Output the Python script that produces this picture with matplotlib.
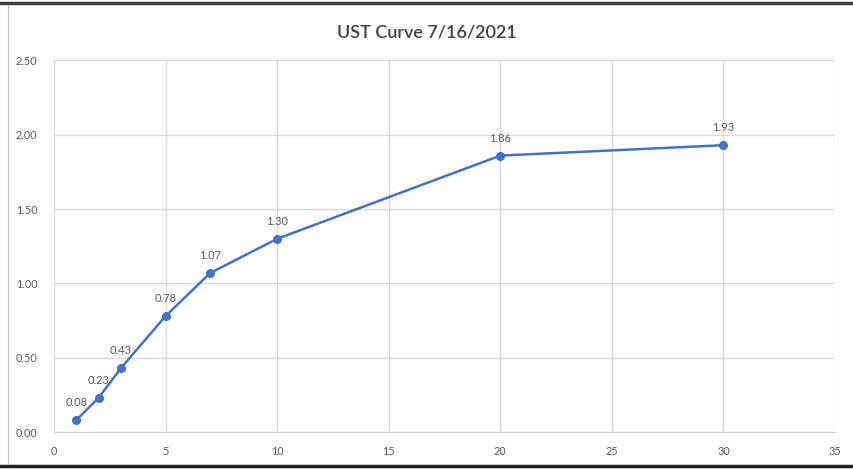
import matplotlib
matplotlib.use('Agg')
import matplotlib.pyplot as plt
from matplotlib.lines import Line2D

plt.rcParams['font.family'] = ['Lato', 'DejaVu Sans']

# UST yield curve data
maturity = [1, 2, 3, 5, 7, 10, 20, 30]
yields = [0.08, 0.23, 0.43, 0.78, 1.07, 1.30, 1.86, 1.93]
yield_labels = ['0.08', '0.23', '0.43', '0.78', '1.07', '1.30', '1.86', '1.93']
xticks = [0, 5, 10, 15, 20, 25, 30, 35]
yticks = [0.0, 0.5, 1.0, 1.5, 2.0, 2.5]

line_color = '#4472C4'
text_color = '#595959'
grid_color = '#D9D9D9'

fig = plt.figure(figsize=(8.54, 4.69), dpi=100)
ax = fig.add_axes([54 / 854, 1 - 432 / 469, (835 - 54) / 854, (432 - 60.5) / 469])

ax.plot(maturity, yields, '-o', color=line_color, lw=1.8, markersize=5.5, zorder=3)
for x, y, lab in zip(maturity, yields, yield_labels):
    ax.annotate(lab, (x, y), xytext=(0, 12), textcoords='offset pixels',
                ha='center', va='bottom', fontsize=8, color=text_color)

ax.set_xlim(0, 35)
ax.set_ylim(0, 2.5)
ax.set_xticks(xticks)
ax.set_yticks(yticks)
ax.set_yticklabels(['{:.2f}'.format(v) for v in yticks])
ax.grid(True, color=grid_color, lw=1)
ax.set_axisbelow(True)
for s in ax.spines.values():
    s.set_visible(False)
ax.spines['bottom'].set_visible(True)
ax.spines['bottom'].set_color('#D0D0D0')
ax.tick_params(length=0, labelsize=7.8, labelcolor=text_color)
ax.tick_params(axis='x', pad=10)
ax.tick_params(axis='y', pad=12)

fig.text(0.5, 1 - 32 / 469, 'UST Curve 7/16/2021', ha='center', va='center',
         fontsize=13, color='#404040', fontweight='semibold')

# outer frame of the screenshot
fig.add_artist(Line2D([0, 1], [1 - 3 / 469, 1 - 3 / 469], color='#404040', lw=2.5))
fig.add_artist(Line2D([0, 1], [3 / 469, 3 / 469], color='#202020', lw=2.5))
fig.add_artist(Line2D([8 / 854, 8 / 854], [5 / 469, 1 - 5 / 469], color='#BFBFBF', lw=0.8))

fig.savefig('out.png', dpi=100)
